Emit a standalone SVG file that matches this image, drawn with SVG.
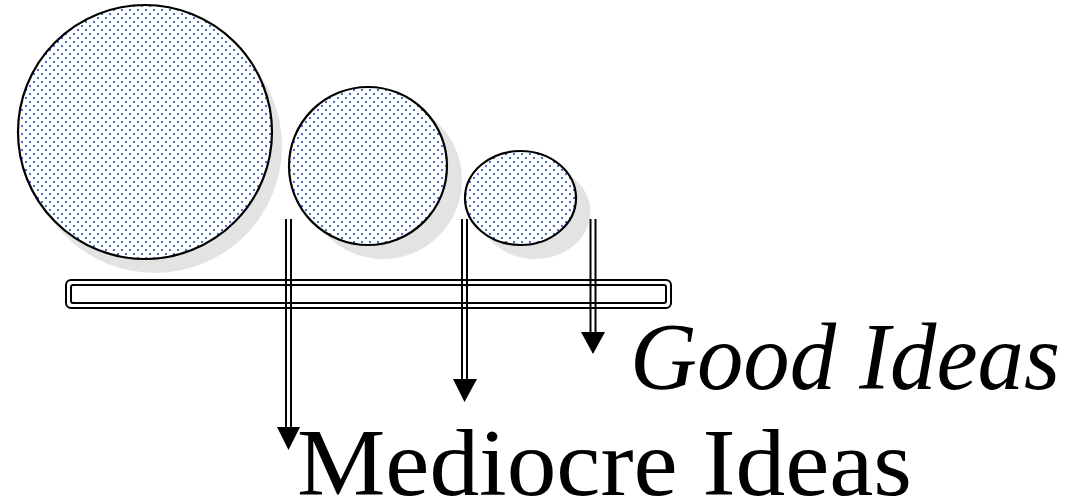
<svg xmlns="http://www.w3.org/2000/svg" width="1069" height="502" viewBox="0 0 1069 502">
  <style>
    .shadow { fill: #e3e3e3; stroke: none; }
    .bubble { fill: url(#dots); stroke: #000; stroke-width: 2.2; }
    .bar { fill: none; stroke: #000; stroke-width: 2; }
    .shaft { stroke: #000; stroke-width: 2; fill: none; }
    .head { fill: #000; stroke: none; }
    .label { font-family: "Liberation Serif", "Times New Roman", serif; font-size: 96px; fill: #000; }
  </style>
  <defs>
    <pattern id="dots" width="8" height="8" patternUnits="userSpaceOnUse">
      <rect width="8" height="8" fill="#fff"/>
      <rect x="1" y="1" width="2" height="2" fill="#4472C4"/>
      <rect x="5" y="5" width="2" height="2" fill="#4472C4"/>
    </pattern>
  </defs>
  <rect width="1069" height="502" fill="#fff"/>

  <g id="node-big">
    <circle class="shadow" cx="155" cy="146" r="127"/>
    <circle class="bubble" cx="145" cy="132" r="127"/>
  </g>
  <g id="node-medium">
    <circle class="shadow" cx="383" cy="180" r="79"/>
    <circle class="bubble" cx="368" cy="166" r="79"/>
  </g>
  <g id="node-small">
    <ellipse class="shadow" cx="535" cy="212" rx="55.5" ry="47"/>
    <ellipse class="bubble" cx="520.5" cy="198" rx="55.5" ry="47"/>
  </g>
  <g id="node-bar">
    <rect class="bar" x="66" y="280" width="605" height="28" rx="5"/>
    <rect class="bar" x="71" y="285" width="595" height="18" rx="2"/>
  </g>

  <g id="connectors">
    <line class="shaft" x1="286" y1="219" x2="286" y2="428"/>
    <line class="shaft" x1="291" y1="219" x2="291" y2="428"/>
    <polygon class="head" points="277,427 300,427 288.5,450"/>

    <line class="shaft" x1="462" y1="219" x2="462" y2="380"/>
    <line class="shaft" x1="467" y1="219" x2="467" y2="380"/>
    <polygon class="head" points="453,379 477,379 464.5,402"/>

    <line class="shaft" x1="590.5" y1="219" x2="590.5" y2="333"/>
    <line class="shaft" x1="595.5" y1="219" x2="595.5" y2="333"/>
    <polygon class="head" points="581,332 605,332 593,354"/>
  </g>

  <g id="node-good">
    <text class="label" x="630" y="389" font-style="italic" textLength="430" lengthAdjust="spacingAndGlyphs">Good Ideas</text>
  </g>
  <g id="node-mediocre">
    <text class="label" x="297" y="495" textLength="615" lengthAdjust="spacingAndGlyphs">Mediocre Ideas</text>
  </g>
</svg>
